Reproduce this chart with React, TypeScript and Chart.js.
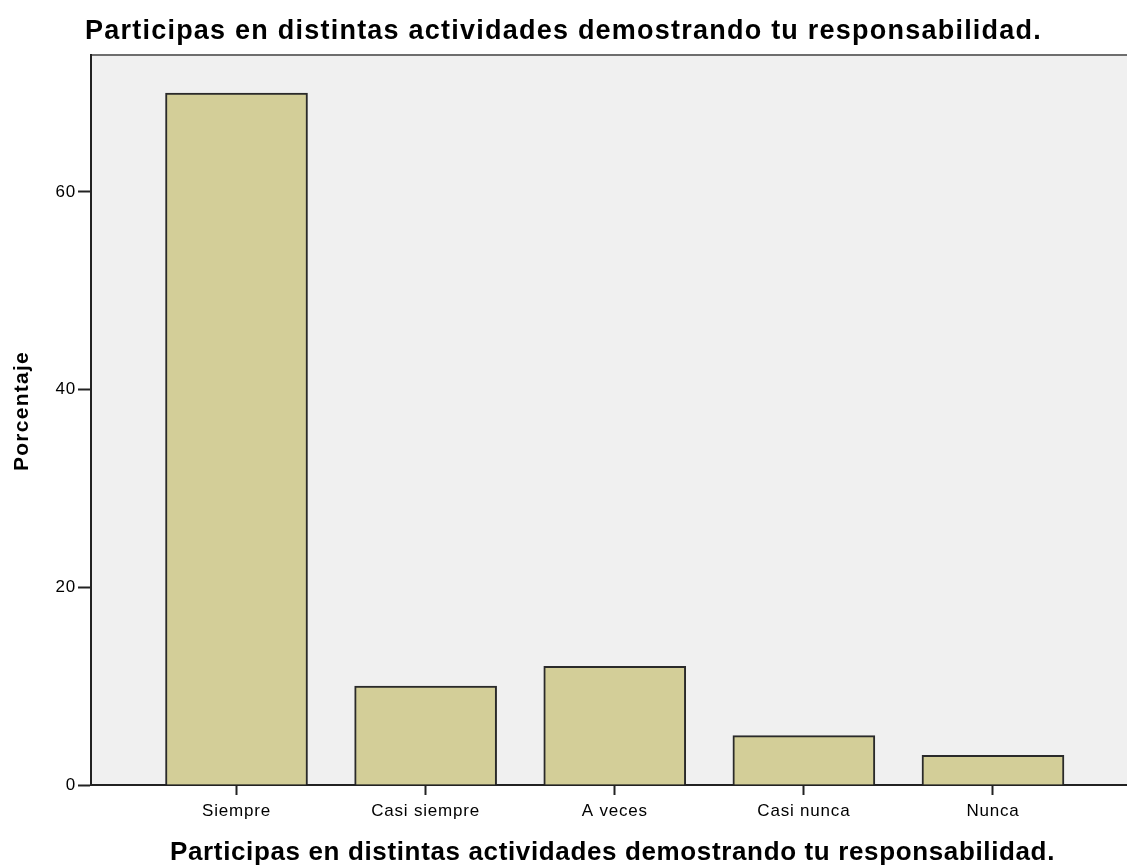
import React, { useEffect, useRef } from "react";
import { Chart, registerables } from "chart.js";

Chart.register(...registerables);

const categories = ["Siempre", "Casi siempre", "A veces", "Casi nunca", "Nunca"];
const percentages = [70, 10, 12, 5, 3];
const yTicks = [0, 20, 40, 60];
const chartTitle = "Participas en distintas actividades demostrando tu responsabilidad.";
const xTitle = "Participas en distintas actividades demostrando tu responsabilidad.";
const yTitle = "Porcentaje";

function drawFitted(ctx: CanvasRenderingContext2D, text: string, font: string, x: number, y: number, target: number) {
  ctx.save();
  ctx.font = font;
  (ctx as any).letterSpacing = "0px";
  const w = ctx.measureText(text).width;
  const sp = (target - w) / text.length;
  (ctx as any).letterSpacing = sp + "px";
  ctx.fillStyle = "#000";
  ctx.textAlign = "left";
  ctx.textBaseline = "alphabetic";
  ctx.fillText(text, x, y);
  ctx.restore();
}

const decor = {
  id: "decor",
  beforeDraw(chart: any) {
    const { ctx, chartArea } = chart;
    ctx.save();
    ctx.fillStyle = "#ffffff";
    ctx.fillRect(0, 0, chart.width, chart.height);
    ctx.fillStyle = "#f0f0f0";
    ctx.fillRect(chartArea.left, chartArea.top, chartArea.right - chartArea.left, chartArea.bottom - chartArea.top);
    ctx.strokeStyle = "#6e6e6e";
    ctx.lineWidth = 2;
    ctx.beginPath();
    ctx.moveTo(chartArea.left, chartArea.top);
    ctx.lineTo(chartArea.right, chartArea.top);
    ctx.stroke();
    ctx.restore();
    (ctx as any).letterSpacing = "0.8px";
  },
  afterDraw(chart: any) {
    const { ctx, chartArea } = chart;
    (ctx as any).letterSpacing = "0px";
    drawFitted(ctx, chartTitle, "bold 27px 'Liberation Sans', Arial, sans-serif", 85, 39, 957);
    drawFitted(ctx, xTitle, "bold 26px 'Liberation Sans', Arial, sans-serif", 170, 860, 885);
    ctx.save();
    ctx.translate(28, (chartArea.top + chartArea.bottom) / 2 - 9);
    ctx.rotate(-Math.PI / 2);
    ctx.font = "bold 21px 'Liberation Sans', Arial, sans-serif";
    (ctx as any).letterSpacing = "0px";
    const w = ctx.measureText(yTitle).width;
    (ctx as any).letterSpacing = (120 - w) / yTitle.length + "px";
    ctx.fillStyle = "#000";
    ctx.textAlign = "left";
    ctx.fillText(yTitle, -60, 0);
    ctx.restore();
  },
};

export default function App() {
  const ref = useRef<HTMLCanvasElement | null>(null);
  useEffect(() => {
    if (!ref.current) return;
    const chart = new Chart(ref.current, {
      type: "bar",
      data: {
        datasets: [
          {
            data: percentages.map((v, i) => ({ x: i + 1, y: v })),
            backgroundColor: "#d3ce98",
            borderColor: "#2a2a2a",
            borderWidth: 2,
            barThickness: 142,
          },
        ],
      },
      plugins: [decor],
      options: {
        animation: false,
        responsive: false,
        devicePixelRatio: 1,
        layout: { padding: { top: 55, left: 0, right: 0, bottom: 0 } },
        plugins: { legend: { display: false }, tooltip: { enabled: false }, title: { display: false } },
        scales: {
          x: {
            type: "linear",
            min: 0.2306,
            max: 5.7086,
            offset: false,
            afterBuildTicks: (scale: any) => {
              scale.ticks = categories.map((_, i) => ({ value: i + 1 }));
            },
            afterFit: (scale: any) => {
              scale.height = 81;
            },
            ticks: {
              autoSkip: false,
              maxRotation: 0,
              color: "#000",
              padding: 6,
              font: { family: "'Liberation Sans', Arial, sans-serif", size: 17 },
              callback: (v: any) => categories[Number(v) - 1] ?? "",
            },
            grid: { offset: false, drawOnChartArea: false, drawTicks: true, tickLength: 10, tickColor: "#222", tickWidth: 2 },
            border: { display: true, color: "#222", width: 2 },
          },
          y: {
            min: 0,
            max: 73.85,
            afterBuildTicks: (scale: any) => {
              scale.ticks = yTicks.map((v) => ({ value: v }));
            },
            afterFit: (scale: any) => {
              scale.width = 91;
            },
            ticks: {
              color: "#000",
              padding: 2,
              font: { family: "'Liberation Sans', Arial, sans-serif", size: 17 },
            },
            grid: { drawOnChartArea: false, drawTicks: true, tickLength: 13, tickColor: "#222", tickWidth: 2 },
            border: { display: true, color: "#222", width: 2 },
          },
        },
      },
    });
    return () => chart.destroy();
  }, []);
  return (
    <div style={{ position: "absolute", left: 0, top: 0, width: 1127, height: 866 }}>
      <canvas ref={ref} width={1127} height={866} style={{ width: 1127, height: 866, display: "block" }} />
    </div>
  );
}
